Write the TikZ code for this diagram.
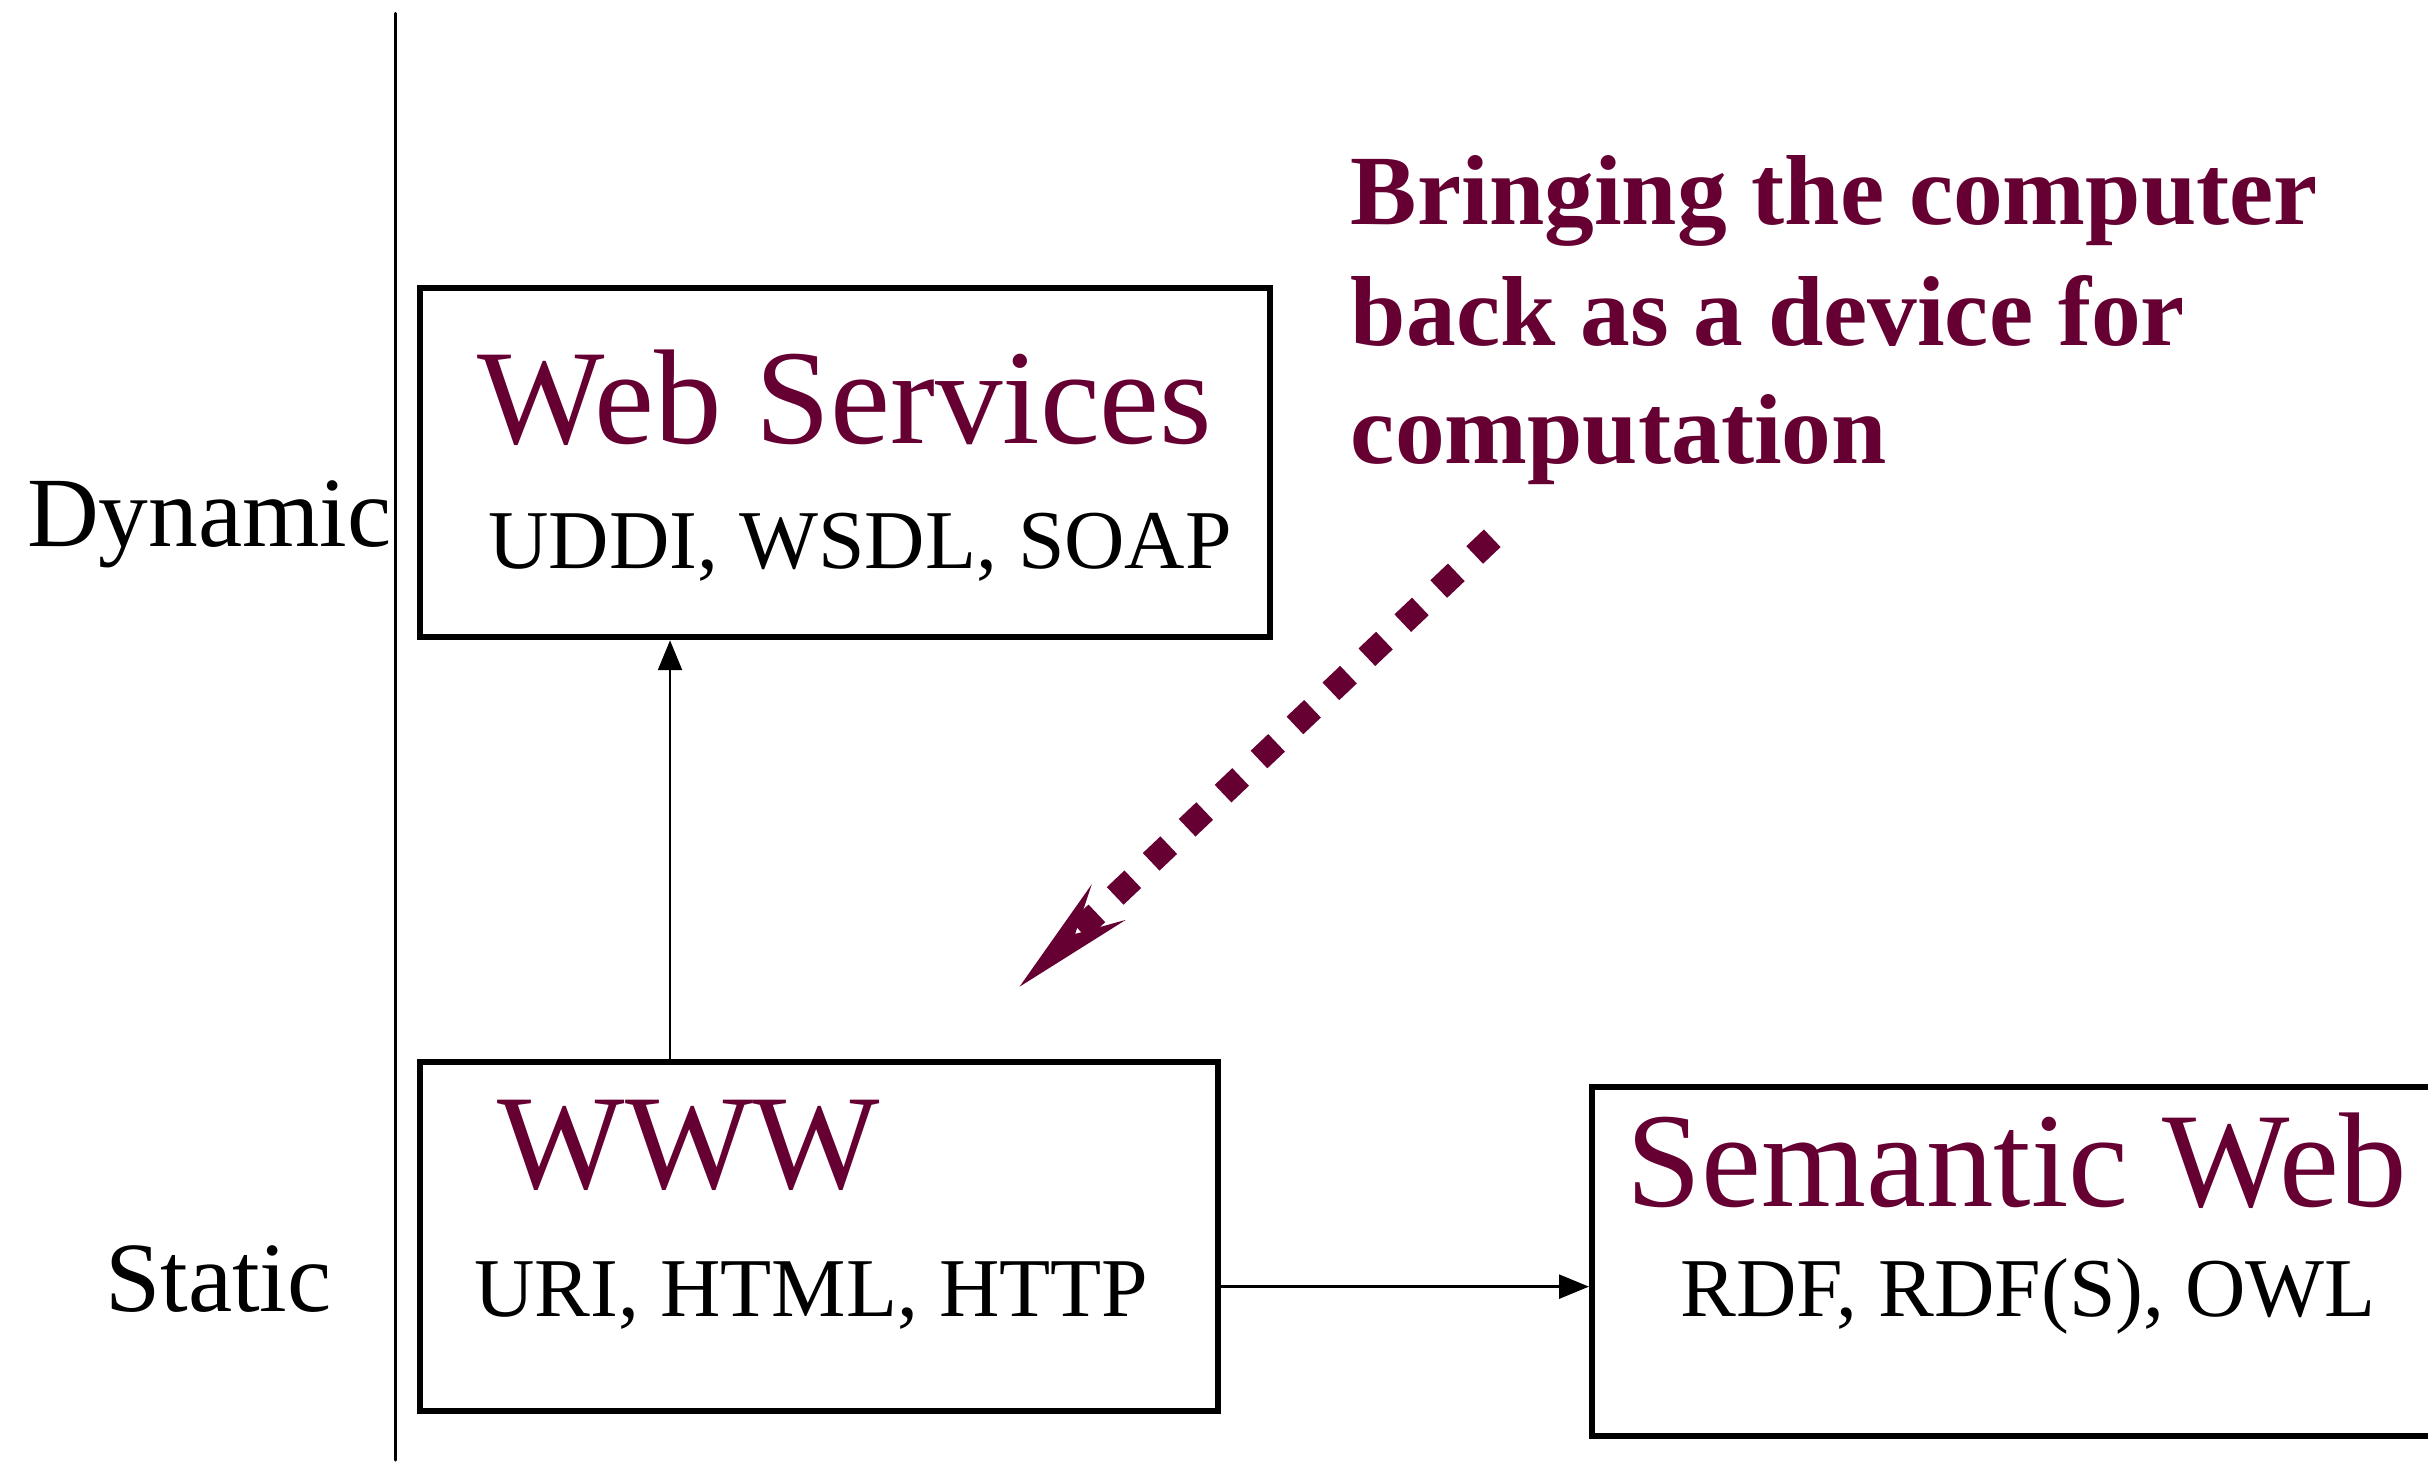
\documentclass[tikz,border=0pt]{standalone}
\usepackage{fontspec}
\setmainfont{Liberation Serif}
\usetikzlibrary{arrows.meta}
\definecolor{maroon}{RGB}{102,0,51}
\begin{document}
\begin{tikzpicture}[x=0.015485cm, y=-0.015485cm,
  box/.style={draw, rectangle, line width=1.7pt, inner sep=0pt},
  lbl/.style={inner sep=0pt, anchor=base west},
  title/.style={lbl, text=maroon, font=\fontsize{38.4}{40}\selectfont},
  sub/.style={lbl, font=\fontsize{23.8}{26}\selectfont},
  side/.style={lbl, font=\fontsize{28.3}{30}\selectfont},
  note/.style={lbl, text=maroon, font=\fontsize{28.3}{33.9}\selectfont\bfseries},
  conn/.style={line width=0.75pt, -{Triangle[length=8.5pt,width=6.8pt]}},
  dotarrow/.style={draw=maroon, line width=6.9pt, dash pattern=on 6.9pt off 7.2pt,
     -{Stealth[length=35pt,width=14pt,inset=13.2pt,line width=0.5pt,fill=maroon]}}]
\clip (0,0) rectangle (1568,953);
\fill[white] (0,0) rectangle (1568,953);

% axis line
\coordinate (vtop) at (255.7,8.6);
\coordinate (vbot) at (255.7,943);
\draw[line width=0.85pt, line cap=round] (vtop) -- (vbot);

% side labels
\node[side] (dyn) at (17,353) {Dynamic};
\node[side] (sta) at (67.5,847) {Static};

% boxes
\node[box, minimum width=8.495cm, minimum height=3.490cm] (ws) at (545.7,298.9) {};
\node[box, minimum width=7.980cm, minimum height=3.490cm] (ww) at (528.95,798.3) {};
\node[box, minimum width=8.857cm, minimum height=3.492cm] (sw) at (1314,814.55) {};

% box texts
\node[title] (wst) at (308,286.3) {Web Services};
\node[sub] (wss) at (315,367) {UDDI, WSDL, SOAP};
\node[title] (wwt) at (321,767.4) {WWW};
\node[sub] (wws) at (306,850.3) {URI, HTML, HTTP};
\node[title] (swt) at (1050,779.2) {Semantic Web};
\node[sub] (sws) at (1085,850.3) {RDF, RDF(S), OWL};

% note
\node[note] (n1) at (872,144.9) {Bringing the computer};
\node[note] (n2) at (872,222.8) {back as a device for};
\node[note] (n3) at (872,299.2) {computation};

% connectors
\coordinate (ax) at (432.7,0);
\coordinate (ay) at (0,830.9);
\draw[conn] (ax |- ww.north) -- (ax |- ws.south);
\draw[conn] (ww.east |- ay) -- (sw.west |- ay);

% dotted arrow
\coordinate (dstart) at (963.7,347.6);
\coordinate (dtip) at (658.4,637.2);
\draw[dotarrow] (dstart) -- (dtip);
\end{tikzpicture}
\end{document}
